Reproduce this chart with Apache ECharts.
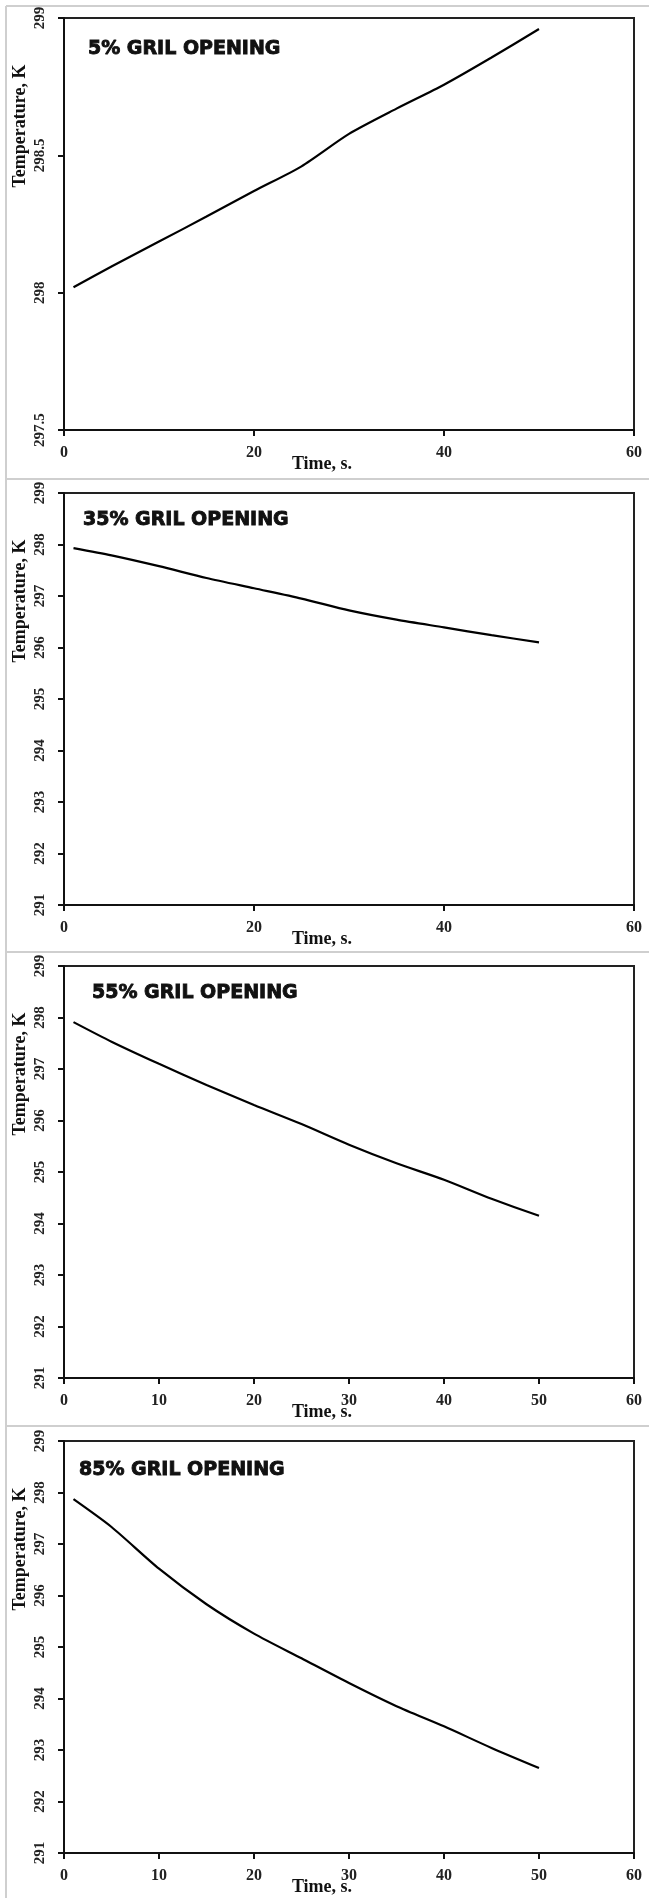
<!DOCTYPE html>
<html>
<head>
<meta charset="utf-8">
<script src="https://cdn.jsdelivr.net/npm/echarts@6/dist/echarts.min.js"></script>
<style>
html,body{margin:0;padding:0;background:#fff;}
#chart{width:649px;height:1898px;}
</style>
</head>
<body>
<div id="chart"></div>
<script>
// ---- data ----
var times = [1, 5, 10, 15, 20, 25, 30, 35, 40, 45, 50];
var temp5  = [298.02, 298.095, 298.186, 298.277, 298.37, 298.46, 298.578, 298.67, 298.757, 298.856, 298.96];
var temp35 = [297.93, 297.79, 297.58, 297.35, 297.15, 296.95, 296.72, 296.54, 296.39, 296.24, 296.10];
var temp55 = [297.91, 297.53, 297.10, 296.69, 296.30, 295.93, 295.53, 295.17, 294.85, 294.48, 294.15];
var temp85 = [297.87, 297.33, 296.52, 295.83, 295.26, 294.78, 294.30, 293.85, 293.46, 293.04, 292.65];
var titles = ['5% GRIL OPENING', '35% GRIL OPENING', '55% GRIL OPENING', '85% GRIL OPENING'];
var xName = 'Time, s.';
var yName = 'Temperature, K';
var xIntervals = [20, 20, 10, 10];
var yMins = [297.5, 291, 291, 291];
var yMaxs = [299, 299, 299, 299];
var yIntervals = [0.5, 1, 1, 1];
var seriesData = [temp5, temp35, temp55, temp85];

// ---- layout ----
var plotTops = [18, 493, 966, 1441];
var plotH = 412;
var plotLeft = 64, plotRightGap = 15;
var titleX = [88, 83, 92, 79];
var titleDy = [31.5, 27, 27, 29];
var separators = [479, 952, 1426];

var serif = '"Liberation Serif", "Times New Roman", serif';
var chart = echarts.init(document.getElementById('chart'), null, {renderer: 'canvas'});

var grids = [], xAxes = [], yAxes = [], series = [], graphics = [];
for (var i = 0; i < 4; i++) {
  grids.push({left: plotLeft, right: plotRightGap, top: plotTops[i], height: plotH,
    show: true, borderColor: '#222', borderWidth: 2, backgroundColor: 'transparent'});
  xAxes.push({type: 'value', gridIndex: i, min: 0, max: 60, interval: xIntervals[i],
    axisLine: {show: true, onZero: false, lineStyle: {color: '#111', width: 2}},
    axisTick: {show: true, inside: false, length: 6, lineStyle: {color: '#111', width: 2}},
    splitLine: {show: false},
    axisLabel: {margin: 15, fontFamily: serif, fontWeight: 'bold', fontSize: 16, color: '#222'}});
  yAxes.push({type: 'value', gridIndex: i, min: yMins[i], max: yMaxs[i], interval: yIntervals[i],
    axisLine: {show: true, onZero: false, lineStyle: {color: '#111', width: 2}},
    axisTick: {show: true, inside: false, length: 6, lineStyle: {color: '#111', width: 2}},
    splitLine: {show: false},
    axisLabel: {margin: 16, rotate: 90, fontFamily: serif, fontWeight: 'bold', fontSize: 15, color: '#222'}});
  var pts = times.map(function (t, k) { return [t, seriesData[i][k]]; });
  series.push({type: 'line', xAxisIndex: i, yAxisIndex: i, data: pts, showSymbol: false,
    smooth: 0.25, lineStyle: {color: '#000', width: 2.2}, silent: true});

  graphics.push({type: 'text', x: titleX[i], y: plotTops[i] + titleDy[i],
    style: {text: titles[i], font: 'bold 19px "DejaVu Sans", sans-serif', fill: '#111',
      stroke: '#111', lineWidth: 0.9, align: 'left', verticalAlign: 'middle'}});
  graphics.push({type: 'text', x: 20, y: plotTops[i] + 108, rotation: Math.PI / 2,
    style: {text: yName, font: 'bold 18px ' + serif, fill: '#111', align: 'center', verticalAlign: 'middle'}});
  graphics.push({type: 'text', x: 322, y: plotTops[i] + plotH + 34,
    style: {text: xName, font: 'bold 18px ' + serif, fill: '#111', align: 'center', verticalAlign: 'middle'}});
}
// frame lines
graphics.push({type: 'line', shape: {x1: 6, y1: 6, x2: 649, y2: 6}, style: {stroke: '#cfcfcf', lineWidth: 2}});
graphics.push({type: 'line', shape: {x1: 6, y1: 6, x2: 6, y2: 1898}, style: {stroke: '#cfcfcf', lineWidth: 2}});
separators.forEach(function (s) {
  graphics.push({type: 'line', shape: {x1: 6, y1: s, x2: 649, y2: s}, style: {stroke: '#cfcfcf', lineWidth: 2}});
});

chart.setOption({
  animation: false,
  backgroundColor: '#fff',
  grid: grids, xAxis: xAxes, yAxis: yAxes, series: series, graphic: graphics
});
</script>
</body>
</html>
